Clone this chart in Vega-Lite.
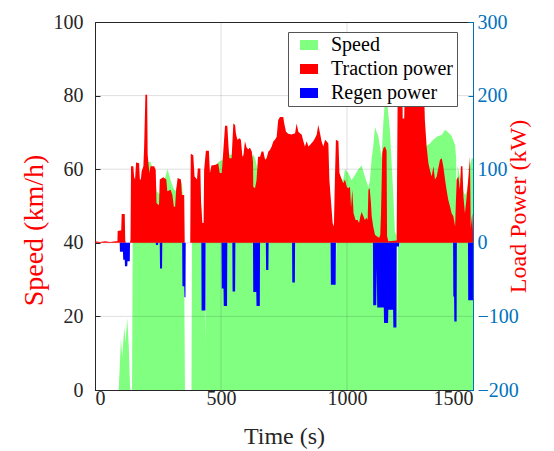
{
  "$schema": "https://vega.github.io/schema/vega-lite/v6.json",
  "width": 378,
  "height": 368,
  "autosize": {"type": "none"},
  "padding": {"left": 95, "top": 22, "right": 81, "bottom": 61},
  "background": "white",
  "view": {"stroke": "#262626", "strokeWidth": 1},
  "config": {
    "font": "Liberation Serif",
    "axis": {
      "labelFont": "Liberation Serif",
      "titleFont": "Liberation Serif",
      "labelFontSize": 20,
      "titleFontSize": 24,
      "titleFontWeight": "normal",
      "grid": false,
      "tickSize": -5,
      "domainWidth": 1,
      "tickWidth": 1
    },
    "legend": {"labelFont": "Liberation Serif"}
  },
  "datasets": {
    "speed": [
      {"t":0,"s":0},{"t":94,"s":0},{"t":96,"s":3},{"t":103,"s":14},{"t":108,"s":9},{"t":116,"s":17},{"t":121,"s":13},{"t":128,"s":19.5},{"t":134,"s":12},{"t":138,"s":3},{"t":140,"s":0},{"t":147,"s":0},{"t":150,"s":45},{"t":160,"s":52},{"t":175,"s":56},{"t":190,"s":58},{"t":200,"s":60},{"t":210,"s":62},{"t":220,"s":62},{"t":230,"s":60},{"t":240,"s":57},{"t":245,"s":54},{"t":252,"s":53.5},{"t":256,"s":53},{"t":262,"s":56},{"t":275,"s":57},{"t":288,"s":60},{"t":300,"s":57},{"t":310,"s":55},{"t":318,"s":54},{"t":325,"s":55},{"t":335,"s":57.5},{"t":345,"s":56},{"t":352,"s":50},{"t":355,"s":20},{"t":357,"s":0},{"t":383,"s":0},{"t":385,"s":45},{"t":395,"s":55},{"t":410,"s":58},{"t":420,"s":52},{"t":428,"s":42},{"t":434,"s":40},{"t":437,"s":13},{"t":440,"s":40},{"t":445,"s":55},{"t":460,"s":58},{"t":475,"s":60},{"t":490,"s":62},{"t":505,"s":62.5},{"t":515,"s":64},{"t":530,"s":64},{"t":545,"s":64},{"t":560,"s":63},{"t":580,"s":62},{"t":600,"s":62},{"t":620,"s":63},{"t":628,"s":64},{"t":635,"s":63},{"t":645,"s":60},{"t":660,"s":62},{"t":680,"s":63},{"t":700,"s":64},{"t":720,"s":66},{"t":740,"s":68},{"t":760,"s":67},{"t":780,"s":66},{"t":800,"s":68},{"t":820,"s":66},{"t":840,"s":65},{"t":860,"s":65},{"t":880,"s":67},{"t":900,"s":65},{"t":920,"s":64},{"t":930,"s":55},{"t":940,"s":45},{"t":950,"s":40},{"t":955,"s":28},{"t":958,"s":40},{"t":962,"s":55},{"t":970,"s":58},{"t":985,"s":57},{"t":992,"s":60},{"t":1005,"s":59},{"t":1018,"s":57},{"t":1032,"s":58.5},{"t":1045,"s":60},{"t":1058,"s":61},{"t":1071,"s":58},{"t":1085,"s":55},{"t":1091,"s":57},{"t":1098,"s":63},{"t":1104,"s":66},{"t":1111,"s":71.5},{"t":1118,"s":70},{"t":1124,"s":69},{"t":1131,"s":66},{"t":1137,"s":63},{"t":1144,"s":72.5},{"t":1151,"s":79},{"t":1157,"s":80},{"t":1164,"s":75},{"t":1171,"s":70},{"t":1177,"s":61.6},{"t":1184,"s":52.5},{"t":1190,"s":43},{"t":1197,"s":42},{"t":1199,"s":15},{"t":1202,"s":42},{"t":1210,"s":70},{"t":1240,"s":72},{"t":1280,"s":72},{"t":1309,"s":66},{"t":1329,"s":67},{"t":1336,"s":67.5},{"t":1349,"s":68.4},{"t":1362,"s":69},{"t":1376,"s":69.3},{"t":1389,"s":70.7},{"t":1402,"s":70},{"t":1415,"s":69},{"t":1429,"s":66.6},{"t":1433,"s":63},{"t":1436,"s":30},{"t":1439,"s":61},{"t":1442,"s":60},{"t":1448,"s":58},{"t":1455,"s":57},{"t":1462,"s":54},{"t":1468,"s":53},{"t":1475,"s":54},{"t":1481,"s":56},{"t":1488,"s":61},{"t":1495,"s":63},{"t":1500,"s":63}
    ],
    "trac": [
      {"t":0,"p":2},{"t":20,"p":1},{"t":40,"p":2},{"t":60,"p":1},{"t":80,"p":2},{"t":89,"p":2},{"t":90,"p":16},{"t":104,"p":17},{"t":106,"p":39},{"t":118,"p":39},{"t":120,"p":3},{"t":122,"p":0},{"t":139,"p":0},{"t":141,"p":5},{"t":143,"p":104},{"t":152,"p":104},{"t":155,"p":90},{"t":159,"p":86},{"t":163,"p":109},{"t":175,"p":108},{"t":178,"p":86},{"t":182,"p":86},{"t":185,"p":97},{"t":192,"p":104},{"t":195,"p":131},{"t":200,"p":201},{"t":207,"p":201},{"t":209,"p":120},{"t":212,"p":108},{"t":216,"p":95},{"t":220,"p":104},{"t":235,"p":104},{"t":241,"p":99},{"t":244,"p":54},{"t":254,"p":51},{"t":257,"p":86},{"t":271,"p":89},{"t":283,"p":86},{"t":287,"p":70},{"t":300,"p":72},{"t":307,"p":65},{"t":313,"p":49},{"t":318,"p":49},{"t":322,"p":72},{"t":328,"p":88},{"t":341,"p":86},{"t":345,"p":65},{"t":354,"p":65},{"t":356,"p":0},{"t":378,"p":0},{"t":380,"p":121},{"t":390,"p":119},{"t":395,"p":90},{"t":405,"p":86},{"t":408,"p":101},{"t":418,"p":101},{"t":421,"p":54},{"t":426,"p":27},{"t":431,"p":27},{"t":433,"p":99},{"t":440,"p":125},{"t":452,"p":125},{"t":456,"p":95},{"t":462,"p":105},{"t":479,"p":106},{"t":489,"p":108},{"t":495,"p":95},{"t":503,"p":95},{"t":509,"p":124},{"t":516,"p":159},{"t":525,"p":159},{"t":530,"p":130},{"t":533,"p":115},{"t":542,"p":115},{"t":549,"p":162},{"t":556,"p":160},{"t":559,"p":149},{"t":565,"p":140},{"t":573,"p":142},{"t":579,"p":140},{"t":585,"p":117},{"t":589,"p":119},{"t":595,"p":138},{"t":602,"p":129},{"t":608,"p":127},{"t":615,"p":129},{"t":622,"p":124},{"t":627,"p":110},{"t":628,"p":76},{"t":635,"p":74},{"t":641,"p":85},{"t":647,"p":117},{"t":655,"p":117},{"t":661,"p":124},{"t":668,"p":124},{"t":675,"p":113},{"t":681,"p":115},{"t":688,"p":124},{"t":694,"p":126},{"t":701,"p":131},{"t":708,"p":138},{"t":714,"p":140},{"t":721,"p":144},{"t":727,"p":167},{"t":734,"p":171},{"t":747,"p":171},{"t":751,"p":162},{"t":758,"p":151},{"t":767,"p":148},{"t":780,"p":147},{"t":794,"p":149},{"t":800,"p":162},{"t":807,"p":151},{"t":813,"p":149},{"t":820,"p":147},{"t":827,"p":138},{"t":833,"p":131},{"t":840,"p":138},{"t":847,"p":131},{"t":853,"p":133},{"t":866,"p":138},{"t":873,"p":142},{"t":880,"p":147},{"t":886,"p":160},{"t":893,"p":149},{"t":899,"p":138},{"t":906,"p":131},{"t":913,"p":140},{"t":919,"p":138},{"t":926,"p":135},{"t":930,"p":86},{"t":935,"p":63},{"t":943,"p":27},{"t":948,"p":22},{"t":952,"p":86},{"t":956,"p":140},{"t":966,"p":138},{"t":970,"p":95},{"t":979,"p":86},{"t":985,"p":81},{"t":992,"p":86},{"t":999,"p":76},{"t":1005,"p":74},{"t":1012,"p":76},{"t":1016,"p":48},{"t":1021,"p":72},{"t":1026,"p":40},{"t":1034,"p":31},{"t":1042,"p":31},{"t":1048,"p":27},{"t":1053,"p":36},{"t":1058,"p":42},{"t":1065,"p":36},{"t":1071,"p":31},{"t":1078,"p":34},{"t":1082,"p":31},{"t":1085,"p":72},{"t":1090,"p":74},{"t":1095,"p":54},{"t":1098,"p":36},{"t":1104,"p":22},{"t":1111,"p":11},{"t":1118,"p":9},{"t":1128,"p":7},{"t":1132,"p":11},{"t":1135,"p":40},{"t":1140,"p":122},{"t":1145,"p":129},{"t":1151,"p":131},{"t":1157,"p":125},{"t":1159,"p":9},{"t":1164,"p":2},{"t":1197,"p":3},{"t":1201,"p":200},{"t":1220,"p":200},{"t":1221,"p":169},{"t":1227,"p":169},{"t":1229,"p":200},{"t":1303,"p":200},{"t":1307,"p":190},{"t":1309,"p":167},{"t":1316,"p":131},{"t":1323,"p":108},{"t":1329,"p":99},{"t":1336,"p":90},{"t":1343,"p":104},{"t":1349,"p":86},{"t":1356,"p":90},{"t":1362,"p":101},{"t":1369,"p":113},{"t":1376,"p":115},{"t":1382,"p":104},{"t":1389,"p":86},{"t":1395,"p":72},{"t":1402,"p":58},{"t":1409,"p":49},{"t":1415,"p":40},{"t":1422,"p":36},{"t":1429,"p":22},{"t":1435,"p":86},{"t":1442,"p":90},{"t":1448,"p":72},{"t":1452,"p":104},{"t":1458,"p":104},{"t":1462,"p":63},{"t":1468,"p":40},{"t":1475,"p":63},{"t":1481,"p":86},{"t":1488,"p":117},{"t":1491,"p":20},{"t":1497,"p":40},{"t":1500,"p":15}
    ],
    "regen": [
      {"t":0,"p":0},{"t":98,"p":0},{"t":99,"p":-12},{"t":111,"p":-12},{"t":112,"p":-23},{"t":118,"p":-23},{"t":119,"p":-32},{"t":128,"p":-32},{"t":129,"p":-25},{"t":138,"p":-25},{"t":139,"p":0},{"t":241,"p":0},{"t":242,"p":-3},{"t":250,"p":-3},{"t":251,"p":0},{"t":257,"p":0},{"t":258,"p":-35},{"t":266,"p":-35},{"t":267,"p":0},{"t":346,"p":0},{"t":347,"p":-59},{"t":354,"p":-59},{"t":355,"p":-74},{"t":359,"p":-74},{"t":360,"p":0},{"t":422,"p":0},{"t":423,"p":-92},{"t":438,"p":-92},{"t":439,"p":0},{"t":502,"p":0},{"t":503,"p":-62},{"t":510,"p":-62},{"t":511,"p":-86},{"t":524,"p":-86},{"t":525,"p":0},{"t":545,"p":0},{"t":546,"p":-66},{"t":556,"p":-66},{"t":557,"p":0},{"t":627,"p":0},{"t":628,"p":-67},{"t":640,"p":-67},{"t":641,"p":-86},{"t":654,"p":-86},{"t":655,"p":0},{"t":678,"p":0},{"t":679,"p":-37},{"t":688,"p":-37},{"t":689,"p":0},{"t":782,"p":0},{"t":783,"p":-54},{"t":793,"p":-54},{"t":794,"p":0},{"t":935,"p":0},{"t":936,"p":-57},{"t":955,"p":-57},{"t":956,"p":0},{"t":1103,"p":0},{"t":1104,"p":-85},{"t":1116,"p":-85},{"t":1118,"p":-35},{"t":1120,"p":-88},{"t":1146,"p":-88},{"t":1147,"p":-109},{"t":1163,"p":-109},{"t":1164,"p":-91},{"t":1183,"p":-91},{"t":1184,"p":-115},{"t":1196,"p":-115},{"t":1197,"p":-5},{"t":1206,"p":-5},{"t":1207,"p":0},{"t":1421,"p":0},{"t":1422,"p":-73},{"t":1425,"p":-73},{"t":1426,"p":-107},{"t":1435,"p":-107},{"t":1436,"p":0},{"t":1480,"p":0},{"t":1481,"p":-78},{"t":1500,"p":-78}
    ]
  },
  "layer": [
    {
      "layer": [
        {
          "data": {"name": "speed"},
          "mark": {"type": "area", "opacity": 1},
          "encoding": {
            "x": {
              "field": "t", "type": "quantitative",
              "scale": {"domain": [0, 1500], "nice": false},
              "axis": {
                "values": [0, 500, 1000, 1500],
                "format": "d",
                "title": "Time (s)",
                "domainColor": "#262626", "tickColor": "#262626",
                "labelColor": "#262626", "titleColor": "#262626",
                "labelPadding": 3, "titlePadding": 16
              }
            },
            "y": {
              "field": "s", "type": "quantitative",
              "scale": {"domain": [0, 100], "nice": false},
              "axis": {
                "values": [0, 20, 40, 60, 80, 100],
                "title": "Speed (km/h)",
                "titleFontSize": 28,
                "titleY": 208,
                "domainColor": "#262626", "tickColor": "#262626",
                "labelColor": "#262626", "titleColor": "#ff0000",
                "labelPadding": 17, "titlePadding": 5
              }
            },
            "color": {
              "datum": "Speed", "type": "nominal",
              "scale": {"domain": ["Speed", "Traction power", "Regen power"], "range": ["#80ff80", "#ff0000", "#0000ff"]},
              "legend": {
                "title": null,
                "orient": "none",
                "legendX": 193,
                "legendY": 10,
                "zindex": 2,
                "fillColor": "white",
                "strokeColor": "#555555",
                "padding": 3,
                "labelFont": "Liberation Serif",
                "labelFontSize": 20,
                "labelColor": "#000000",
                "symbolType": "M-0.9,-0.5H0.9V0.5H-0.9Z",
                "symbolSize": 400,
                "symbolStrokeWidth": 0,
                "symbolOpacity": 1,
                "symbolOffset": 8,
                "labelOffset": 12,
                "rowPadding": 4
              }
            }
          }
        },
        {"data": {"values": [{}]}, "mark": {"type": "rule", "color": "#262626", "opacity": 0.15}, "encoding": {"x": {"datum": 500}}},
        {"data": {"values": [{}]}, "mark": {"type": "rule", "color": "#262626", "opacity": 0.15}, "encoding": {"x": {"datum": 1000}}},
        {"data": {"values": [{}]}, "mark": {"type": "rule", "color": "#262626", "opacity": 0.15}, "encoding": {"y": {"datum": 20}}},
        {"data": {"values": [{}]}, "mark": {"type": "rule", "color": "#262626", "opacity": 0.15}, "encoding": {"y": {"datum": 40}}},
        {"data": {"values": [{}]}, "mark": {"type": "rule", "color": "#262626", "opacity": 0.15}, "encoding": {"y": {"datum": 60}}},
        {"data": {"values": [{}]}, "mark": {"type": "rule", "color": "#262626", "opacity": 0.15}, "encoding": {"y": {"datum": 80}}}
      ]
    },
    {
      "layer": [
        {
          "data": {"name": "trac"},
          "mark": {"type": "area", "opacity": 1},
          "encoding": {
            "x": {"field": "t", "type": "quantitative"},
            "y": {
              "field": "p", "type": "quantitative",
              "scale": {"domain": [-200, 300], "nice": false},
              "axis": {
                "orient": "right",
                "values": [-200, -100, 0, 100, 200, 300],
                "title": "Load Power (kW)",
                "titleAngle": 270,
                "domainColor": "#0072bd", "tickColor": "#0072bd",
                "labelColor": "#0072bd", "titleColor": "#ff0000",
                "labelPadding": 9, "titlePadding": 12
              }
            },
            "y2": {"datum": 0},
            "color": {"datum": "Traction power", "type": "nominal"}
          }
        },
        {
          "data": {"name": "regen"},
          "mark": {"type": "area", "opacity": 1},
          "encoding": {
            "x": {"field": "t", "type": "quantitative"},
            "y": {
              "field": "p", "type": "quantitative",
              "scale": {"domain": [-200, 300], "nice": false},
              "axis": {
                "orient": "right",
                "values": [-200, -100, 0, 100, 200, 300],
                "title": "Load Power (kW)",
                "titleAngle": 270,
                "domainColor": "#0072bd", "tickColor": "#0072bd",
                "labelColor": "#0072bd", "titleColor": "#ff0000",
                "labelPadding": 9, "titlePadding": 12
              }
            },
            "y2": {"datum": 0},
            "color": {"datum": "Regen power", "type": "nominal"}
          }
        }
      ]
    }
  ],
  "resolve": {"scale": {"y": "independent"}}
}
